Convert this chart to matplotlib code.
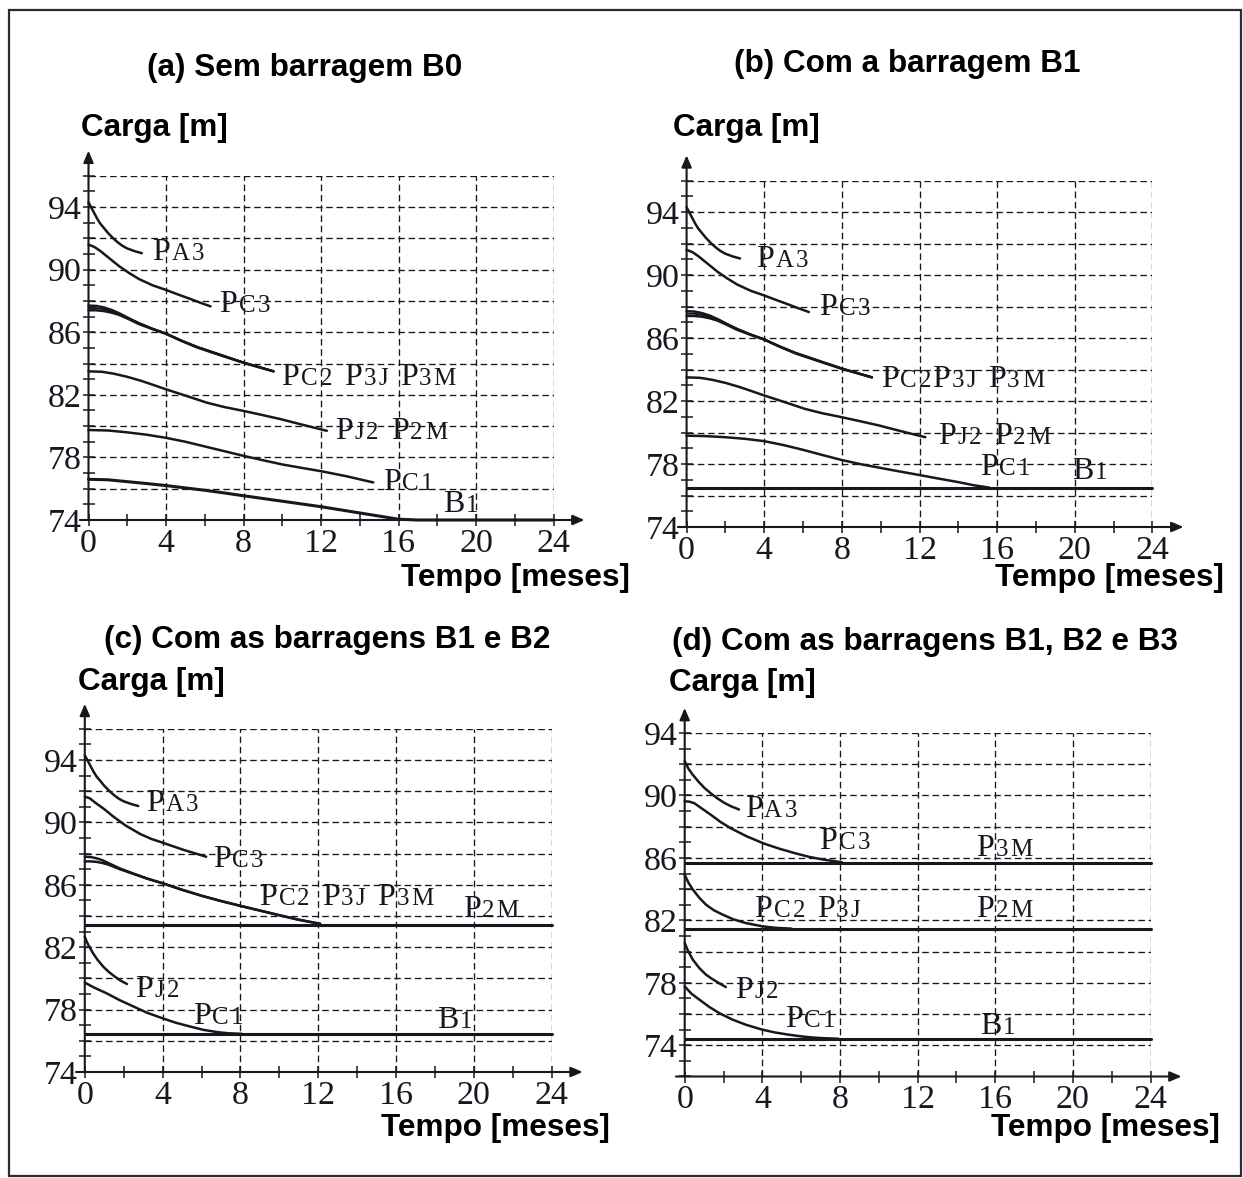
import matplotlib
matplotlib.use("Agg")
import matplotlib.pyplot as plt
from matplotlib.patches import Rectangle

# ---------------- data (tempo [meses], carga [m]) ----------------
# Panel (a) - Sem barragem B0
a_pa3_t = [0, 0.15, 0.3, 0.45, 0.6, 0.8, 1.0, 1.25, 1.5, 1.75, 2.0, 2.4, 2.75]
a_pa3_h = [94.3, 93.95, 93.6, 93.25, 92.95, 92.65, 92.35, 92.03, 91.75, 91.52, 91.35, 91.17, 91.05]
a_pc3_t = [0, 0.3, 0.6, 1.0, 1.6, 2.1, 2.6, 3.3, 4.0, 4.6, 5.2, 5.8, 6.3]
a_pc3_h = [91.6, 91.45, 91.2, 90.8, 90.2, 89.78, 89.4, 89.0, 88.7, 88.42, 88.15, 87.87, 87.65]
a_grp_t = [0, 0.4, 0.8, 1.2, 1.6, 2.1, 2.6, 3.3, 4.0, 4.8, 5.6, 6.8, 8.0, 9.55]
a_pc2_h = [87.7, 87.68, 87.58, 87.42, 87.2, 86.88, 86.58, 86.22, 85.9, 85.45, 85.05, 84.55, 84.05, 83.5]
a_p3m_h = [87.55, 87.54, 87.47, 87.33, 87.15, 86.86, 86.57, 86.22, 85.92, 85.47, 85.07, 84.57, 84.07, 83.5]
a_p3j_h = [87.4, 87.4, 87.35, 87.25, 87.1, 86.82, 86.52, 86.2, 85.9, 85.45, 85.03, 84.53, 84.05, 83.5]
a_pj2_t = [0, 0.7, 1.3, 2.0, 2.7, 3.3, 4.0, 5.0, 6.1, 7.0, 8.0, 9.0, 9.9, 11.0, 12.3]
a_pj2_h = [83.5, 83.47, 83.35, 83.15, 82.9, 82.65, 82.35, 81.95, 81.5, 81.22, 80.97, 80.7, 80.45, 80.1, 79.7]
a_pc1_t = [0, 1, 2, 3, 4, 5, 6, 7, 8, 9, 10, 11, 12, 13.3, 14.7]
a_pc1_h = [79.75, 79.72, 79.6, 79.45, 79.25, 79.0, 78.7, 78.4, 78.1, 77.82, 77.55, 77.33, 77.12, 76.8, 76.4]
a_b1_t = [0, 1, 2, 3, 4, 5, 6, 7, 8, 10, 12, 14, 15, 16, 17, 24]
a_b1_h = [76.6, 76.57, 76.45, 76.33, 76.2, 76.05, 75.9, 75.73, 75.55, 75.2, 74.85, 74.45, 74.25, 74.05, 74.0, 74.0]

# Panel (b) - Com a barragem B1 (upper wells as in (a))
b_pc1_t = [0, 1, 2, 3, 4, 5, 6, 7, 8, 9, 10, 11, 12, 13, 14, 14.8, 15.6]
b_pc1_h = [79.8, 79.77, 79.7, 79.6, 79.45, 79.2, 78.9, 78.57, 78.25, 77.98, 77.75, 77.52,
           77.3, 77.07, 76.85, 76.65, 76.5]
b_b1_t = [0, 24]
b_b1_h = [76.45, 76.45]

# Panel (c) - Com as barragens B1 e B2
c_pc3_t = [0, 0.25, 0.5, 1.0, 1.47, 2.1, 2.86, 3.4, 4.0, 5.1, 6.24]
c_pc3_h = [91.65, 91.55, 91.3, 90.85, 90.37, 89.8, 89.25, 88.95, 88.7, 88.23, 87.8]
c_grp_t = [0, 0.3, 0.6, 0.9, 1.2, 1.8, 2.5, 3.2, 4.0, 5.0, 6.0, 7.0, 8.0, 9.0, 10.0, 11.0, 12.1]
c_pc2_h = [87.8, 87.78, 87.7, 87.58, 87.4, 87.05, 86.72, 86.4, 86.1, 85.68, 85.3, 84.96,
           84.65, 84.35, 84.05, 83.76, 83.5]
c_p3j_h = [87.5, 87.5, 87.47, 87.4, 87.3, 87.0, 86.7, 86.4, 86.1, 85.68, 85.3, 84.96,
           84.65, 84.35, 84.05, 83.76, 83.5]
c_p2m_t = [0, 24]
c_p2m_h = [83.45, 83.45]
c_pj2_t = [0, 0.1, 0.2, 0.3, 0.43, 0.65, 0.95, 1.25, 1.56, 1.85, 2.17]
c_pj2_h = [82.68, 82.35, 82.1, 81.88, 81.6, 81.2, 80.75, 80.4, 80.1, 79.85, 79.64]
c_pc1_t = [0, 0.5, 1.13, 1.8, 2.5, 3.2, 4.0, 4.7, 5.46, 6.1, 6.85, 7.4, 8.06]
c_pc1_h = [79.73, 79.4, 79.04, 78.6, 78.2, 77.8, 77.44, 77.15, 76.9, 76.7, 76.55, 76.48, 76.45]
c_b1_t = [0, 24]
c_b1_h = [76.44, 76.44]

# Panel (d) - Com as barragens B1, B2 e B3
d_pa3_t = [0, 0.1, 0.2, 0.4, 0.7, 1.0, 1.35, 1.7, 2.05, 2.4, 2.8]
d_pa3_h = [92.2, 91.95, 91.7, 91.35, 90.9, 90.5, 90.13, 89.8, 89.52, 89.3, 89.1]
d_pc3_t = [0, 0.25, 0.5, 0.9, 1.35, 1.85, 2.37, 3.2, 4.06, 4.9, 5.75, 6.4, 7.1, 8.1]
d_pc3_h = [89.63, 89.6, 89.5, 89.15, 88.76, 88.3, 87.9, 87.38, 86.93, 86.58, 86.28, 86.07, 85.9, 85.72]
d_p3m_t = [0, 24]
d_p3m_h = [85.7, 85.7]
d_pc2_t = [0, 0.1, 0.2, 0.42, 0.75, 1.1, 1.5, 1.95, 2.5, 3.14, 4.0, 4.7, 5.5]
d_pc2_h = [84.93, 84.65, 84.4, 83.97, 83.45, 83.0, 82.65, 82.37, 82.07, 81.83, 81.62, 81.52, 81.47]
d_p2m_t = [0, 24]
d_p2m_h = [81.45, 81.45]
d_pj2_t = [0, 0.1, 0.2, 0.42, 0.75, 1.1, 1.35, 1.61, 1.85, 2.12]
d_pj2_h = [80.55, 80.25, 79.98, 79.48, 78.95, 78.52, 78.3, 78.1, 77.92, 77.73]
d_pc1_t = [0, 0.35, 0.76, 1.25, 1.78, 2.45, 3.14, 4.0, 4.65, 5.35, 6.0, 6.54, 7.2, 7.9]
d_pc1_h = [77.77, 77.3, 76.92, 76.47, 76.06, 75.65, 75.32, 75.0, 74.82, 74.68, 74.57, 74.5, 74.45, 74.42]
d_b1_t = [0, 24]
d_b1_h = [74.4, 74.4]

# curve labels: (text, tempo, carga)   '|' joins without a gap
a_labels = [("PA3", 3.3, 90.6), ("PC3", 6.76, 87.3), ("PC2 P3J P3M", 9.96, 82.6),
            ("PJ2 P2M", 12.73, 79.2), ("PC1", 15.2, 75.9), ("B1", 18.3, 74.5)]
b_labels = [("PA3", 3.59, 90.5), ("PC3", 6.84, 87.44), ("PC2|P3J P3M", 10.0, 82.9),
            ("PJ2 P2M", 12.96, 79.3), ("PC1", 15.1, 77.3), ("B1", 19.86, 77.07)]
c_labels = [("PA3", 3.17, 90.7), ("PC3", 6.6, 87.15), ("PC2 P3J P3M", 8.97, 84.7),
            ("P2M", 19.43, 83.95), ("PJ2", 2.6, 78.8), ("PC1", 5.55, 77.1), ("B1", 18.1, 76.8)]
d_labels = [("PA3", 3.1, 88.65), ("PC3", 6.94, 86.6), ("P3M", 15.03, 86.1),
            ("PC2 P3J", 3.59, 82.24), ("P2M", 15.03, 82.24), ("PJ2", 2.6, 77.0),
            ("PC1", 5.17, 75.18), ("B1", 15.2, 74.75)]

titles = ["(a) Sem barragem B0", "(b) Com a barragem B1",
          "(c) Com as barragens B1 e B2", "(d) Com as barragens B1, B2 e B3"]
y_label = "Carga [m]"
x_label = "Tempo [meses]"
x_ticklabels = [0, 4, 8, 12, 16, 20, 24]
y_ticklabels = [74, 78, 82, 86, 90, 94]

# ---------------- figure ----------------
W, H = 1243, 1178
fig = plt.figure(figsize=(W / 100, H / 100), dpi=100)
renderer = fig.canvas.get_renderer()
INK = "#17171f"
SERIF = "Liberation Serif"
SANS = "Liberation Sans"
BIG, SMALL = 23, 18


def fx(px):
    return px / W


def fy(py):
    return 1 - py / H


def make_axes(x0, x24, ybot, ytop, ylo, yhi):
    ax = fig.add_axes([fx(x0), fy(ybot), (x24 - x0) / W, (ybot - ytop) / H])
    ax.set_xlim(0, 24)
    ax.set_ylim(ylo, yhi)
    ax.patch.set_alpha(0)
    for s in ax.spines.values():
        s.set_visible(False)
    dash = (0, (5.0, 2.8))
    for y in range(ylo + 2, yhi + 1, 2):
        ax.plot([0, 24], [y, y], color=INK, lw=0.95, ls=dash, zorder=1)
    for x in range(4, 25, 4):
        ax.plot([x, x], [ylo, yhi], color=INK, lw=0.95, ls=dash, zorder=1)
    ax.annotate("", xy=(25.6, ylo), xytext=(-0.45, ylo), annotation_clip=False,
                arrowprops=dict(arrowstyle="-|>,head_length=0.7,head_width=0.3",
                                color=INK, lw=1.5, shrinkA=0, shrinkB=0))
    ax.annotate("", xy=(0, yhi + 1.6), xytext=(0, ylo), annotation_clip=False,
                arrowprops=dict(arrowstyle="-|>,head_length=0.7,head_width=0.3",
                                color=INK, lw=1.5, shrinkA=0, shrinkB=0))
    ax.set_yticks(range(ylo, yhi + 1))
    ax.set_yticklabels([str(v) if v in y_ticklabels else "" for v in range(ylo, yhi + 1)])
    ax.set_xticks(range(0, 25, 2))
    ax.set_xticklabels([str(v) if v in x_ticklabels else "" for v in range(0, 25, 2)])
    ax.tick_params(axis="both", direction="inout", length=8, width=1.1, color=INK,
                   labelcolor=INK, labelsize=24.5)
    ax.tick_params(axis="y", pad=1)
    ax.tick_params(axis="x", pad=2)
    for lab in ax.get_xticklabels() + ax.get_yticklabels():
        lab.set_fontfamily(SERIF)
    return ax


def curve(ax, t, h, lw=1.8):
    ax.plot(t, h, color=INK, lw=lw, solid_capstyle="round", solid_joinstyle="round",
            clip_on=False, zorder=3)


def curve_label(ax, x, y, text):
    """'P' in full size followed by small capitals sitting on the same baseline."""
    inv = ax.transData.inverted()
    cur, base = ax.transData.transform((x, y))
    first = True
    for word in text.split(" "):
        for pi, part in enumerate(word.split("|")):
            if not first:
                cur += 12 if pi == 0 else 1
            first = False
            pieces = [(part[0], BIG, 1.5)] + [(ch, SMALL, 2.2) for ch in part[1:]]
            for k, (ch, fs, after) in enumerate(pieces):
                xd, yd = inv.transform((cur, base))
                t = ax.text(xd, yd, ch, fontsize=fs, family=SERIF, color=INK,
                            va="baseline", ha="left", clip_on=False, zorder=4)
                cur = t.get_window_extent(renderer).x1
                if k < len(pieces) - 1:
                    cur += after


def panel_text(title, tx, ty, cx, cy, mx, my):
    kw = dict(fontsize=22.7, fontweight="bold", family=SANS, color="black", va="center")
    fig.text(fx(tx), fy(ty), title, ha="center", **kw)
    fig.text(fx(cx), fy(cy), y_label, ha="left", **kw)
    fig.text(fx(mx), fy(my), x_label, ha="right", **kw)


# ---- (a)
ax = make_axes(88.5, 553.5, 520, 520 - 22 * 15.65, 74, 96)
curve(ax, a_pa3_t, a_pa3_h)
curve(ax, a_pc3_t, a_pc3_h)
curve(ax, a_grp_t, a_pc2_h)
curve(ax, a_grp_t, a_p3m_h, lw=1.4)
curve(ax, a_grp_t, a_p3j_h)
curve(ax, a_pj2_t, a_pj2_h)
curve(ax, a_pc1_t, a_pc1_h)
curve(ax, a_b1_t, a_b1_h, lw=2.2)
for txt, x, y in a_labels:
    curve_label(ax, x, y, txt)
panel_text(titles[0], 305, 68, 81, 128, 630, 578)

# ---- (b)
ax = make_axes(686.6, 1152.4, 527, 527 - 22 * 15.75, 74, 96)
curve(ax, a_pa3_t, a_pa3_h)
curve(ax, a_pc3_t, a_pc3_h)
curve(ax, a_grp_t, a_pc2_h)
curve(ax, a_grp_t, a_p3m_h, lw=1.4)
curve(ax, a_grp_t, a_p3j_h)
curve(ax, a_pj2_t, a_pj2_h)
curve(ax, b_pc1_t, b_pc1_h)
curve(ax, b_b1_t, b_b1_h, lw=2.2)
for txt, x, y in b_labels:
    curve_label(ax, x, y, txt)
panel_text(titles[1], 907, 64, 673, 128, 1224, 578)

# ---- (c)
ax = make_axes(84.8, 551.6, 1072, 1072 - 22 * 15.6, 74, 96)
curve(ax, a_pa3_t, a_pa3_h)
curve(ax, c_pc3_t, c_pc3_h)
curve(ax, c_grp_t, c_pc2_h)
curve(ax, c_grp_t, c_p3j_h)
curve(ax, c_p2m_t, c_p2m_h, lw=2.2)
curve(ax, c_pj2_t, c_pj2_h)
curve(ax, c_pc1_t, c_pc1_h)
curve(ax, c_b1_t, c_b1_h, lw=2.2)
for txt, x, y in c_labels:
    curve_label(ax, x, y, txt)
panel_text(titles[2], 327, 640, 78, 682, 610, 1128)

# ---- (d)
ax = make_axes(684.7, 1150.5, 1076.5, 733, 72, 94)
curve(ax, d_pa3_t, d_pa3_h)
curve(ax, d_pc3_t, d_pc3_h)
curve(ax, d_p3m_t, d_p3m_h, lw=2.2)
curve(ax, d_pc2_t, d_pc2_h)
curve(ax, d_p2m_t, d_p2m_h, lw=2.2)
curve(ax, d_pj2_t, d_pj2_h)
curve(ax, d_pc1_t, d_pc1_h)
curve(ax, d_b1_t, d_b1_h, lw=2.2)
for txt, x, y in d_labels:
    curve_label(ax, x, y, txt)
panel_text(titles[3], 925, 642, 669, 683, 1220, 1128)

# outer frame
fig.add_artist(Rectangle((fx(9), fy(1176)), (1241 - 9) / W, (1176 - 10) / H,
                         transform=fig.transFigure, fill=False, ec="#2a2a35", lw=1.6))

fig.savefig("out.png", dpi=100, facecolor="white")
